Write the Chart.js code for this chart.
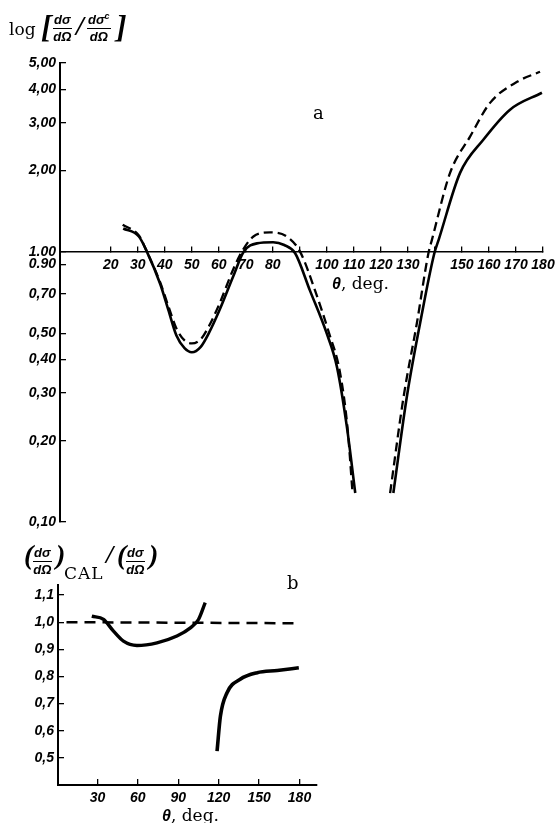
<!DOCTYPE html>
<html>
<head>
<meta charset="utf-8">
<script src="https://cdn.jsdelivr.net/npm/chart.js@4.4.1/dist/chart.umd.min.js"></script>
<style>
  body { margin: 0; background: #fff; width: 556px; height: 823px; position: relative; overflow: hidden;
         font-family: "DejaVu Serif", serif; color: #000; }
  canvas { position: absolute; left: 0; }
  #chartA { top: 0; }
  #chartB { top: 540px; }
  .t { position: absolute; white-space: nowrap; line-height: 1; }
  .it { font-family: "Liberation Sans", sans-serif; font-style: italic; font-weight: bold; }
  .br { font-family: "Liberation Serif", serif; font-style: italic; font-weight: bold; }
  .frac { position: absolute; display: flex; flex-direction: column; align-items: center; line-height: 1.0;
          font: italic bold 13px "Liberation Sans", sans-serif; }
  .frac .num { border-bottom: 1.8px solid #000; padding: 0 1px 1px; }
  .frac sup { font-size: 9px; line-height: 0; }
</style>
</head>
<body>
<canvas id="chartA" width="556" height="540"></canvas>
<canvas id="chartB" width="556" height="283"></canvas>

<!-- titles and labels -->
<div class="t" style="left:9px;top:21px;font-size:17px;">log</div>
<div class="t br" style="left:41px;top:10px;font-size:32px;">[</div>
<div class="frac" style="left:53px;top:12px;"><span class="num">dσ</span><span>dΩ</span></div>
<div class="t br" style="left:76px;top:12px;font-size:28px;">/</div>
<div class="frac" style="left:87px;top:12px;"><span class="num">dσ<sup>c</sup></span><span>dΩ</span></div>
<div class="t br" style="left:116px;top:10px;font-size:32px;">]</div>

<div class="t" style="left:313px;top:104px;font-size:18px;">a</div>
<div class="t" style="left:332px;top:275px;font-size:17px;"><span class="it" style="font-size:16px;">θ</span>, deg.</div>

<div class="t br" style="left:24px;top:541px;font-size:28px;">(</div>
<div class="frac" style="left:33px;top:545px;"><span class="num">dσ</span><span>dΩ</span></div>
<div class="t br" style="left:56px;top:541px;font-size:28px;">)</div>
<div class="t" style="left:64px;top:565px;font-size:17px;letter-spacing:1px;">CAL</div>
<div class="t br" style="left:106px;top:542px;font-size:26px;">/</div>
<div class="t br" style="left:117px;top:541px;font-size:28px;">(</div>
<div class="frac" style="left:126px;top:545px;"><span class="num">dσ</span><span>dΩ</span></div>
<div class="t br" style="left:149px;top:541px;font-size:28px;">)</div>

<div class="t" style="left:287px;top:574px;font-size:18px;">b</div>
<div class="t" style="left:162px;top:807px;font-size:17px;"><span class="it" style="font-size:16px;">θ</span>, deg.</div>

<script>
// ---- chart a: log of cross-section ratio vs angle ----
const thetaSolidLeftA = [24.6, 30.4, 33.4, 38.3, 41.3, 44.3, 47.3, 50.0, 53.3, 56.3, 60.3, 65.3, 69.2, 74.1, 80.1, 84.2, 88.2, 93.7, 99.9, 103.7, 107.4, 110.5];
const ratioSolidLeftA = [1.22, 1.14, 1.00, 0.76, 0.61, 0.49, 0.44, 0.425, 0.445, 0.50, 0.61, 0.81, 1.00, 1.075, 1.085, 1.06, 0.99, 0.72, 0.50, 0.376, 0.225, 0.128];
const thetaDashLeftA = [24.4, 30.4, 33.4, 38.3, 41.3, 44.3, 47.3, 50.0, 53.3, 56.3, 60.3, 65.3, 68.5, 72.8, 78.9, 85.1, 90.1, 95.6, 100.8, 104.8, 107.6, 109.5];
const ratioDashLeftA = [1.26, 1.15, 1.00, 0.77, 0.63, 0.52, 0.47, 0.458, 0.475, 0.53, 0.645, 0.86, 1.00, 1.14, 1.18, 1.14, 1.00, 0.72, 0.50, 0.36, 0.225, 0.128];
const thetaSolidRightA = [124.6, 129.6, 134.5, 139.8, 141.4, 149.3, 157.9, 167.8, 179.6];
const ratioSolidRightA = [0.128, 0.291, 0.544, 0.99, 1.11, 1.96, 2.60, 3.36, 3.88];
const thetaDashRightA = [123.4, 128.4, 133.3, 137.6, 138.9, 145.6, 153.0, 160.4, 170.4, 178.9];
const ratioDashRightA = [0.128, 0.291, 0.544, 0.99, 1.11, 1.96, 2.67, 3.56, 4.26, 4.64];

const thetaTicksA = [20, 30, 40, 50, 60, 70, 80, 90, 100, 110, 120, 130, 140, 150, 160, 170, 180];
const thetaLabelsA = ['20', '30', '40', '50', '60', '70', '80', '', '100', '110', '120', '130', '', '150', '160', '170', '180'];
const ratioTicksA = [0.1, 0.2, 0.3, 0.4, 0.5, 0.7, 0.9, 1, 2, 3, 4, 5];
const ratioLabelsA = ['0,10', '0,20', '0,30', '0,40', '0,50', '0,70', '0.90', '1.00', '2,00', '3,00', '4,00', '5,00'];

// ---- chart b: calculated / measured ratio ----
const thetaDashB = [7, 178];
const ratioDashB = [1.0, 0.996];
const thetaSolidLeftB = [25.8, 34.5, 41.9, 49.3, 59.3, 74.2, 89, 99, 105, 110];
const ratioSolidLeftB = [1.022, 1.01, 0.967, 0.93, 0.914, 0.924, 0.949, 0.979, 1.01, 1.072];
const thetaSolidRightB = [118.8, 121.3, 126.2, 136, 148.6, 163.5, 179.5];
const ratioSolidRightB = [0.525, 0.654, 0.74, 0.79, 0.814, 0.822, 0.832];

const thetaTicksB = [30, 60, 90, 120, 150, 180];
const ratioTicksB = [0.5, 0.6, 0.7, 0.8, 0.9, 1.0, 1.1];
const ratioLabelsB = ['0,5', '0,6', '0,7', '0,8', '0,9', '1,0', '1,1'];

const tickFont = { family: '"Liberation Sans", sans-serif', size: 14, style: 'italic', weight: 'bold' };

function pts(xs, ys) {
    return xs.map((x, i) => ({ x: x, y: ys[i] }));
}

function line(xs, ys, width, dash) {
    return {
        data: pts(xs, ys),
        borderColor: '#000',
        borderWidth: width,
        borderDash: dash || [],
        pointRadius: 0,
        fill: false,
        cubicInterpolationMode: 'monotone'
    };
}

function axisStyle(borderWidth) {
    return {
        grid: { drawOnChartArea: false, tickLength: -6, color: '#000', lineWidth: 1.3 },
        border: { display: true, color: '#000', width: borderWidth }
    };
}

// fixed axis box size, and no extra room for the end labels
function fixSize(w, h) {
    return s => {
        if (w !== null) s.width = w;
        if (h !== null) s.height = h;
        s.paddingLeft = 0; s.paddingRight = 0; s.paddingTop = 0; s.paddingBottom = 0;
    };
}

new Chart(document.getElementById('chartA'), {
    type: 'line',
    data: {
        datasets: [
            line(thetaSolidLeftA, ratioSolidLeftA, 2.6),
            line(thetaDashLeftA, ratioDashLeftA, 2.3, [9, 5]),
            line(thetaSolidRightA, ratioSolidRightA, 2.6),
            line(thetaDashRightA, ratioDashRightA, 2.3, [9, 5])
        ]
    },
    options: {
        responsive: false,
        animation: false,
        layout: { padding: { left: 10, top: 63, right: 13, bottom: 18 } },
        plugins: { legend: { display: false }, tooltip: { enabled: false } },
        scales: {
            x: {
                type: 'linear', min: 1.2, max: 180,
                position: { y: 1 },
                afterFit: fixSize(null, 0),
                afterBuildTicks: s => { s.ticks = thetaTicksA.map(v => ({ value: v })); },
                ...axisStyle(1.6),
                ticks: { padding: 11, autoSkip: false, maxRotation: 0, color: '#000', font: tickFont,
                         callback: (v, i) => thetaLabelsA[i] }
            },
            y: {
                type: 'logarithmic', min: 0.1, max: 5,
                position: 'left',
                afterFit: fixSize(50, null),
                afterBuildTicks: s => { s.ticks = ratioTicksA.map(v => ({ value: v })); },
                ...axisStyle(2),
                ticks: { padding: 10, autoSkip: false, color: '#000', font: tickFont,
                         callback: (v, i) => ratioLabelsA[i] }
            }
        }
    }
});

new Chart(document.getElementById('chartB'), {
    type: 'line',
    data: {
        datasets: [
            line(thetaDashB, ratioDashB, 2.5, [11, 7]),
            line(thetaSolidLeftB, ratioSolidLeftB, 3.4),
            line(thetaSolidRightB, ratioSolidRightB, 3.6)
        ]
    },
    options: {
        responsive: false,
        animation: false,
        layout: { padding: { left: 8, top: 45, right: 239, bottom: 8 } },
        plugins: { legend: { display: false }, tooltip: { enabled: false } },
        scales: {
            x: {
                type: 'linear', min: 0.7, max: 193,
                position: 'bottom',
                afterFit: fixSize(null, 30),
                afterBuildTicks: s => { s.ticks = thetaTicksB.map(v => ({ value: v })); },
                ...axisStyle(2),
                ticks: { padding: 11, autoSkip: false, maxRotation: 0, color: '#000', font: tickFont }
            },
            y: {
                type: 'linear', min: 0.4, max: 1.137,
                position: 'left',
                afterFit: fixSize(50, null),
                afterBuildTicks: s => { s.ticks = ratioTicksB.map(v => ({ value: v })); },
                ...axisStyle(2),
                ticks: { padding: 10, autoSkip: false, color: '#000', font: tickFont,
                         callback: (v, i) => ratioLabelsB[i] }
            }
        }
    }
});
</script>
</body>
</html>
